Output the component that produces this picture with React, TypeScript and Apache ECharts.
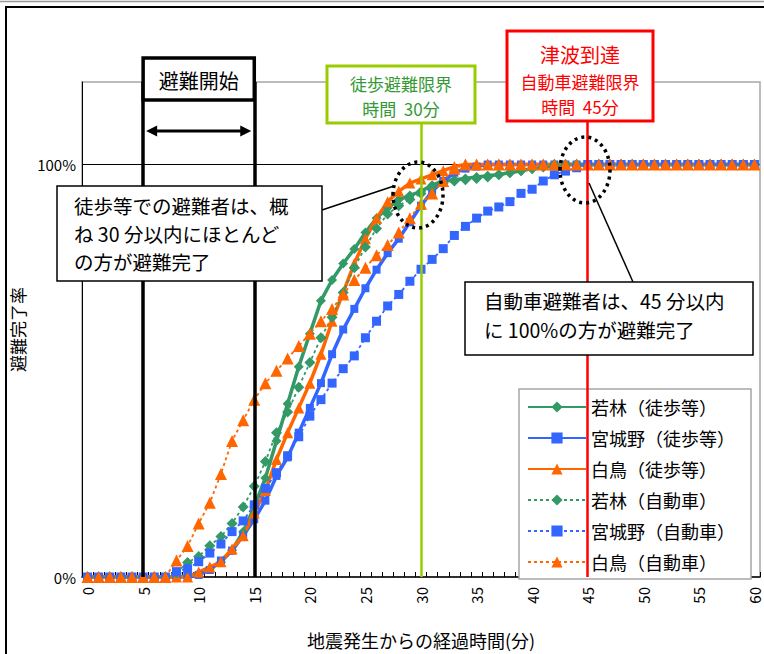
import React, { useEffect, useRef } from "react";
import * as echarts from "echarts";

const FONT = '"Noto Sans CJK JP", "Noto Sans", sans-serif';

const minutes: string[] = [
  "0","1","2","3","4","5","6","7","8","9",
  "10","11","12","13","14","15","16","17","18","19",
  "20","21","22","23","24","25","26","27","28","29",
  "30","31","32","33","34","35","36","37","38","39",
  "40","41","42","43","44","45","46","47","48","49",
  "50","51","52","53","54","55","56","57","58","59",
  "60",
];

const seriesNames = [
  "若林（徒歩等）",
  "宮城野（徒歩等）",
  "白鳥（徒歩等）",
  "若林（自動車）",
  "宮城野（自動車）",
  "白鳥（自動車）",
];

const wakabayashiWalk = [
  0, 0, 0, 0, 0, 0, 0, 0, 0, 0.3,
  0.8, 2, 3.6, 6.5, 11, 17, 24, 33, 42, 51,
  59, 67, 72, 76, 79.5, 83.5, 87, 89.5, 91.5, 92.5,
  93.5, 95, 96, 96.3, 96.6, 97, 97.3, 97.6, 98, 98.5,
  99, 99.3, 99.6, 100, 100, 100, 100, 100, 100, 100,
  100, 100, 100, 100, 100, 100, 100, 100, 100, 100,
  100,
];

const miyaginoWalk = [
  0, 0, 0, 0, 0, 0, 0, 0, 0, 0,
  0.5, 1.7, 4, 6.4, 10, 14, 18.5, 24.5, 29, 35,
  41, 47, 54, 60, 65, 70, 74.5, 78.5, 82, 86,
  90, 93.5, 96, 98, 99, 99.5, 100, 100, 100, 100,
  100, 100, 100, 100, 100, 100, 100, 100, 100, 100,
  100, 100, 100, 100, 100, 100, 100, 100, 100, 100,
  100,
];

const shiratoriWalk = [
  0, 0, 0, 0, 0, 0, 0, 0, 0, 0,
  1.2, 2.4, 3.7, 6.8, 10, 15.5, 21, 28.5, 35, 41,
  47, 54, 62, 69, 76, 82, 87, 91, 93.5, 95.5,
  96.5, 97.5, 98.5, 99.5, 100, 100, 100, 100, 100, 100,
  100, 100, 100, 100, 100, 100, 100, 100, 100, 100,
  100, 100, 100, 100, 100, 100, 100, 100, 100, 100,
  100,
];

const wakabayashiCar = [
  0, 0, 0, 0, 0, 0, 0, 0, 1, 3.5,
  5, 7.6, 9.8, 13, 17, 22, 28, 35, 40, 46,
  52, 58, 63, 69, 75, 80, 84.5, 88, 90, 91.5,
  93, 94.5, 95.5, 96, 96.3, 96.6, 97, 97.5, 98, 98.5,
  99, 99.5, 100, 100, 100, 100, 100, 100, 100, 100,
  100, 100, 100, 100, 100, 100, 100, 100, 100, 100,
  100,
];

const miyaginoCar = [
  0, 0, 0, 0, 0, 0, 0, 0, 1.3, 2,
  3.7, 5.8, 8, 11, 13.6, 17.5, 21.5, 25.3, 29.4, 34,
  39, 43, 47, 50.5, 53.6, 58, 62, 65.7, 68.5, 71.7,
  74.6, 77, 79.6, 82.8, 85, 87, 88.7, 89.7, 91, 93,
  94, 96, 97.5, 98.4, 99.2, 100, 100, 100, 100, 100,
  100, 100, 100, 100, 100, 100, 100, 100, 100, 100,
  100,
];

const shiratoriCar = [
  0, 0, 0, 0, 0, 0, 0, 0, 4, 7.5,
  13, 18, 25, 33, 38, 43, 47, 50, 53, 56,
  59, 62, 65, 68.5, 72, 75, 78, 80.5, 83.5, 87,
  90.5, 93, 96, 99, 100, 100, 100, 100, 100, 100,
  100, 100, 100, 100, 100, 100, 100, 100, 100, 100,
  100, 100, 100, 100, 100, 100, 100, 100, 100, 100,
  100,
];

const yTickLabels = [0, 100];

const GREEN = "#339966";
const BLUE = "#3366ff";
const ORANGE = "#ff6600";

function mkSeries(
  name: string,
  data: number[],
  color: string,
  symbol: string,
  solid: boolean,
  size: number
): any {
  return {
    type: "line",
    name,
    data,
    symbol,
    symbolSize: size,
    showSymbol: true,
    showAllSymbol: true,
    z: 3,
    itemStyle: { color },
    lineStyle: solid
      ? { color, width: 3.5, type: "solid" }
      : { color, width: 1.8, type: [3, 3] },
    emphasis: { disabled: true },
    silent: true,
  };
}

export default function App() {
  const ref = useRef<HTMLDivElement>(null);

  useEffect(() => {
    document.body.style.margin = "0";
    if (!ref.current) return;
    const chart = echarts.init(ref.current, undefined, { renderer: "svg" });

    const series: any[] = [
      mkSeries(seriesNames[0], wakabayashiWalk, GREEN, "diamond", true, 10),
      mkSeries(seriesNames[1], miyaginoWalk, BLUE, "rect", true, 8),
      mkSeries(seriesNames[2], shiratoriWalk, ORANGE, "triangle", true, 11),
      mkSeries(seriesNames[3], wakabayashiCar, GREEN, "diamond", false, 11),
      mkSeries(seriesNames[4], miyaginoCar, BLUE, "rect", false, 9),
      mkSeries(seriesNames[5], shiratoriCar, ORANGE, "triangle", false, 12),
    ];

    series[0].markLine = {
      silent: true,
      symbol: ["none", "none"],
      label: { show: false },
      animation: false,
      data: [{ yAxis: 100, lineStyle: { color: "#000", width: 1, type: "solid" } }],
      z: 1,
    };
    series[5].markLine = {
      silent: true,
      symbol: ["none", "none"],
      label: { show: false },
      animation: false,
      data: [
        { xAxis: "5", lineStyle: { color: "#000", width: 3.5, type: "solid" } },
        { xAxis: "15", lineStyle: { color: "#000", width: 3.5, type: "solid" } },
        { xAxis: "30", lineStyle: { color: "#99cc00", width: 2.5, type: "solid" } },
        { xAxis: "45", lineStyle: { color: "#ff0000", width: 2.5, type: "solid" } },
      ],
    };

    const option: any = {
      animation: false,
      backgroundColor: "#fff",
      textStyle: { fontFamily: FONT },
      grid: {
        left: 82,
        right: 4,
        top: 82,
        bottom: 76,
        show: true,
        borderColor: "#a6a6a6",
        borderWidth: 1.5,
        backgroundColor: "transparent",
      },
      legend: {
        data: seriesNames,
        orient: "vertical",
        left: 519,
        top: 389,
        itemWidth: 58,
        itemHeight: 14,
        itemGap: 13,
        padding: [9, 16, 8, 8],
        borderColor: "#a6a6a6",
        borderWidth: 1.5,
        backgroundColor: "#fff",
        selectedMode: false,
        textStyle: { fontSize: 18, color: "#000", fontFamily: FONT },
        z: 1,
      },
      xAxis: {
        type: "category",
        data: minutes,
        boundaryGap: true,
        name: "地震発生からの経過時間(分)",
        nameLocation: "middle",
        nameGap: 54,
        nameTextStyle: { fontSize: 18, color: "#000", fontFamily: FONT },
        axisLine: { lineStyle: { color: "#000", width: 1.5 } },
        axisTick: { show: true, inside: true, interval: 0, length: 5, lineStyle: { color: "#000" } },
        axisLabel: {
          interval: 4,
          rotate: 90,
          fontSize: 15,
          color: "#000",
          margin: 10,
          fontFamily: FONT,
        },
        splitLine: { show: false },
      },
      yAxis: {
        type: "value",
        min: 0,
        max: 120,
        interval: 100,
        name: "避難完了率",
        nameLocation: "middle",
        nameRotate: 90,
        nameGap: 55,
        nameTextStyle: { fontSize: 17, color: "#000", fontFamily: FONT },
        axisLine: { show: true, lineStyle: { color: "#000", width: 1 } },
        axisTick: { show: false },
        axisLabel: {
          fontSize: 15,
          color: "#000",
          margin: 6,
          fontFamily: FONT,
          formatter: (v: number) => (yTickLabels.indexOf(v) >= 0 ? v + "%" : ""),
        },
        splitLine: { show: false },
      },
      series,
    };

    chart.setOption(option);

    const x5 = chart.convertToPixel({ xAxisIndex: 0 }, 5) as number;
    const x15 = chart.convertToPixel({ xAxisIndex: 0 }, 15) as number;

    const txt = (
      text: string,
      x: number,
      y: number,
      size: number,
      fill: string,
      align: string = "center"
    ): any => ({
      type: "text",
      z: 110,
      silent: true,
      style: {
        text,
        x,
        y,
        fill,
        fontSize: size,
        fontFamily: FONT,
        textAlign: align,
        textVerticalAlign: "middle",
      },
    });

    const arrowY = 131;
    const graphic: any[] = [
      // outer frame
      {
        type: "line",
        z: 120,
        silent: true,
        shape: { x1: 0, y1: 1.5, x2: 764, y2: 1.5 },
        style: { stroke: "#999", lineWidth: 1.5 },
      },
      {
        type: "rect",
        z: 120,
        silent: true,
        shape: { x: 6, y: 7, width: 800, height: 700 },
        style: { fill: "none", stroke: "#000", lineWidth: 2 },
      },
      // evacuation start box
      {
        type: "rect",
        z: 100,
        silent: true,
        shape: { x: x5, y: 58, width: x15 - x5, height: 42 },
        style: { fill: "#fff", stroke: "#000", lineWidth: 3.5 },
      },
      txt("避難開始", (x5 + x15) / 2, 80, 20, "#000"),
      {
        type: "line",
        z: 100,
        silent: true,
        shape: { x1: x5 + 10, y1: arrowY, x2: x15 - 10, y2: arrowY },
        style: { stroke: "#000", lineWidth: 3 },
      },
      {
        type: "polygon",
        z: 100,
        silent: true,
        shape: { points: [[x5 + 3, arrowY], [x5 + 14, arrowY - 5.5], [x5 + 14, arrowY + 5.5]] },
        style: { fill: "#000" },
      },
      {
        type: "polygon",
        z: 100,
        silent: true,
        shape: { points: [[x15 - 3, arrowY], [x15 - 14, arrowY - 5.5], [x15 - 14, arrowY + 5.5]] },
        style: { fill: "#000" },
      },
      // walking limit box
      {
        type: "rect",
        z: 100,
        silent: true,
        shape: { x: 327, y: 66, width: 148, height: 57 },
        style: { fill: "#fff", stroke: "#99cc00", lineWidth: 3 },
      },
      txt("徒歩避難限界", 401, 83, 17, "#339933"),
      txt("時間  30分", 401, 108, 17, "#339933"),
      // tsunami box
      {
        type: "rect",
        z: 100,
        silent: true,
        shape: { x: 507, y: 31, width: 146, height: 90 },
        style: { fill: "#fff", stroke: "#ff0000", lineWidth: 3 },
      },
      txt("津波到達", 580, 54, 20, "#ff0000"),
      txt("自動車避難限界", 580, 81, 17, "#ff0000"),
      txt("時間  45分", 580, 106, 17, "#ff0000"),
      // callout 1
      {
        type: "line",
        z: 100,
        silent: true,
        shape: { x1: 322, y1: 210, x2: 394, y2: 186 },
        style: { stroke: "#000", lineWidth: 1.5 },
      },
      {
        type: "rect",
        z: 100,
        silent: true,
        shape: { x: 57, y: 186, width: 265, height: 95 },
        style: { fill: "#fff", stroke: "#000", lineWidth: 1.5 },
      },
      txt("徒歩等での避難者は、概", 74, 205, 19.5, "#000", "left"),
      txt("ね 30 分以内にほとんど", 74, 233, 19.5, "#000", "left"),
      txt("の方が避難完了", 74, 261, 19.5, "#000", "left"),
      {
        type: "ellipse",
        z: 105,
        silent: true,
        shape: { cx: 418, cy: 195, rx: 25, ry: 33 },
        style: { fill: "none", stroke: "#000", lineWidth: 3.5, lineDash: [3, 4] },
      },
      // callout 2
      {
        type: "line",
        z: 100,
        silent: true,
        shape: { x1: 589, y1: 183, x2: 633, y2: 282 },
        style: { stroke: "#000", lineWidth: 1.5 },
      },
      {
        type: "rect",
        z: 100,
        silent: true,
        shape: { x: 465, y: 282, width: 288, height: 73 },
        style: { fill: "#fff", stroke: "#000", lineWidth: 1.5 },
      },
      txt("自動車避難者は、45 分以内", 484, 300, 19.5, "#000", "left"),
      txt("に 100%の方が避難完了", 484, 329, 19.5, "#000", "left"),
      {
        type: "ellipse",
        z: 105,
        silent: true,
        shape: { cx: 585, cy: 170, rx: 25, ry: 33 },
        style: { fill: "none", stroke: "#000", lineWidth: 3.5, lineDash: [3, 4] },
      },
    ];

    chart.setOption({ graphic });

    return () => {
      chart.dispose();
    };
  }, []);

  return <div ref={ref} style={{ width: 764, height: 654 }} />;
}
